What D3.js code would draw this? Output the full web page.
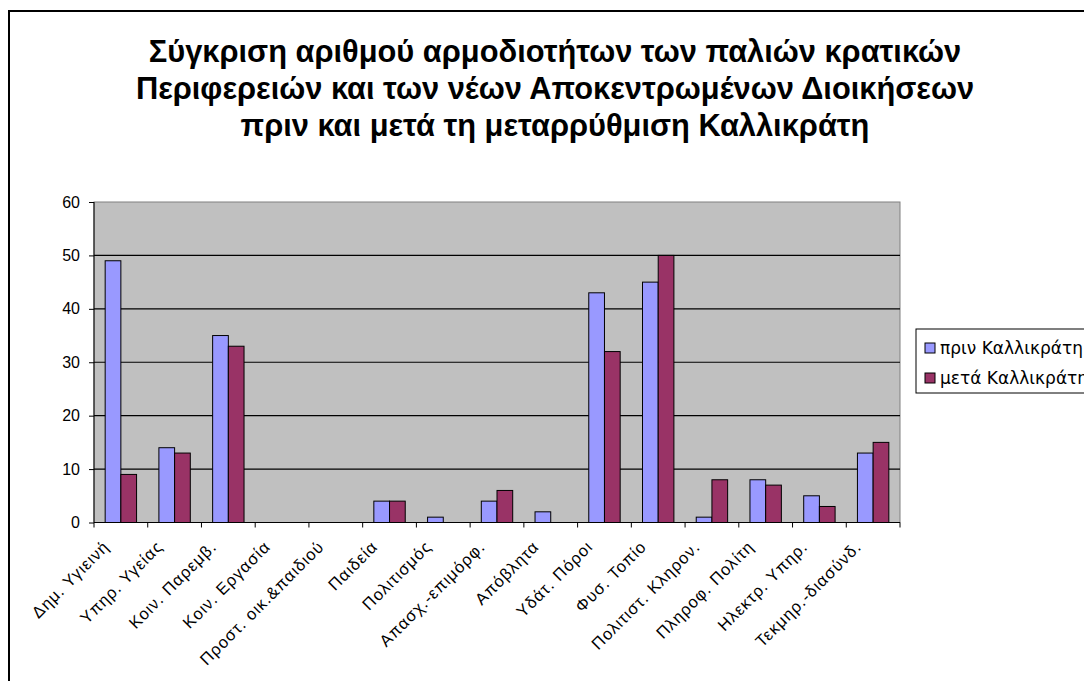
<!DOCTYPE html>
<html>
<head>
<meta charset="utf-8">
<script src="https://cdn.jsdelivr.net/npm/d3@7"></script>
<style>
  body { margin: 0; background: #fff; }
  svg { display: block; }
</style>
</head>
<body>
<div class="chart"></div>
<script>
var categories = ["Δημ. Υγιεινή", "Υπηρ. Υγείας", "Κοιν. Παρεμβ.", "Κοιν. Εργασία",
  "Προστ. οικ.&παιδιού", "Παιδεία", "Πολιτισμός", "Απασχ.-επιμόρφ.", "Απόβλητα",
  "Υδάτ. Πόροι", "Φυσ. Τοπίο", "Πολιτιστ. Κληρον.", "Πληροφ. Πολίτη", "Ηλεκτρ. Υπηρ.",
  "Τεκμηρ.-διασύνδ."];
var before = [49, 14, 35, 0, 0, 4, 1, 4, 2, 43, 45, 1, 8, 5, 13];
var after = [9, 13, 33, 0, 0, 4, 0, 6, 0, 32, 50, 8, 7, 3, 15];
var seriesNames = ["πριν Καλλικράτη", "μετά Καλλικράτη"];
var yTicks = [0, 10, 20, 30, 40, 50, 60];
var titleLines = ["Σύγκριση αριθμού αρμοδιοτήτων των παλιών κρατικών",
  "Περιφερειών και των νέων Αποκεντρωμένων Διοικήσεων",
  "πριν και μετά τη μεταρρύθμιση Καλλικράτη"];

var W = 1084, H = 681;
var colors = ["#9999ff", "#993366"];
var plotLeft = 94, plotRight = 900, plotTop = 202, plotBottom = 522.5;
var groupW = 31.4;

var svg = d3.select(".chart").append("svg")
    .attr("width", W)
    .attr("height", H);

// outer chart border
svg.append("rect")
    .attr("x", 9).attr("y", 11)
    .attr("width", W + 20).attr("height", H + 20)
    .attr("fill", "none")
    .attr("stroke", "#000")
    .attr("stroke-width", 2);

// title
svg.append("g").selectAll("text")
    .data(titleLines)
    .enter().append("text")
    .attr("x", 555)
    .attr("y", function(d, i) { return 62 + i * 37; })
    .attr("text-anchor", "middle")
    .attr("font-family", "Liberation Sans, Arial, sans-serif")
    .attr("font-weight", "bold")
    .attr("font-size", 30.8)
    .text(function(d) { return d; });

var x = d3.scaleBand().domain(d3.range(categories.length)).range([plotLeft, plotRight]);
var xInner = d3.scaleBand().domain([0, 1]).range([0, groupW]);
var y = d3.scaleLinear().domain([0, 60]).range([plotBottom, plotTop]);

// plot area
svg.append("rect")
    .attr("x", plotLeft).attr("y", plotTop)
    .attr("width", plotRight - plotLeft).attr("height", plotBottom - plotTop)
    .attr("fill", "#c0c0c0")
    .attr("stroke", "#808080")
    .attr("stroke-width", 1);

// gridlines
svg.append("g").selectAll("line")
    .data(yTicks.filter(function(d) { return d > 0 && d < 60; }))
    .enter().append("line")
    .attr("x1", plotLeft).attr("x2", plotRight)
    .attr("y1", function(d) { return y(d); })
    .attr("y2", function(d) { return y(d); })
    .attr("stroke", "#000")
    .attr("stroke-width", 1.2);

// bars
var groups = svg.append("g").selectAll("g")
    .data(categories.map(function(c, i) { return [before[i], after[i]]; }))
    .enter().append("g")
    .attr("transform", function(d, i) {
        return "translate(" + (x(i) + (x.bandwidth() - groupW) / 2) + ",0)";
    });

groups.selectAll("rect")
    .data(function(d) {
        return d.map(function(v, k) { return {v: v, k: k}; })
                .filter(function(e) { return e.v > 0; });
    })
    .enter().append("rect")
    .attr("x", function(d) { return xInner(d.k); })
    .attr("y", function(d) { return y(d.v); })
    .attr("width", xInner.bandwidth())
    .attr("height", function(d) { return y(0) - y(d.v); })
    .attr("fill", function(d) { return colors[d.k]; })
    .attr("stroke", "#000")
    .attr("stroke-width", 1);

// y axis
var yAxis = svg.append("g")
    .attr("transform", "translate(" + plotLeft + ",0)")
    .call(d3.axisLeft(y).tickValues(yTicks).tickSize(5).tickPadding(9));
yAxis.selectAll("text")
    .attr("font-family", "Liberation Sans, Arial, sans-serif")
    .attr("font-size", 16)
    .attr("fill", "#000");
yAxis.selectAll("line, path").attr("stroke", "#000");
yAxis.select("path").attr("d", "M0," + plotBottom + "V" + plotTop);

// x axis
var xAxis = svg.append("g")
    .attr("transform", "translate(0," + plotBottom + ")");
xAxis.append("line")
    .attr("x1", plotLeft).attr("x2", plotRight)
    .attr("stroke", "#000");
xAxis.selectAll("line.tick")
    .data(d3.range(categories.length + 1))
    .enter().append("line")
    .attr("class", "tick")
    .attr("x1", function(d) { return plotLeft + d * x.step(); })
    .attr("x2", function(d) { return plotLeft + d * x.step(); })
    .attr("y1", 0).attr("y2", 5)
    .attr("stroke", "#000");
xAxis.selectAll("text")
    .data(categories)
    .enter().append("text")
    .attr("transform", function(d, i) {
        return "translate(" + (x(i) + x.bandwidth() / 2 - 19) + ",17) rotate(-45)";
    })
    .attr("text-anchor", "end")
    .attr("dy", "0.71em")
    .attr("font-family", "Liberation Sans, Arial, sans-serif")
    .attr("font-size", 16.5)
    .attr("letter-spacing", 1)
    .text(function(d) { return d; });

// legend
var legend = svg.append("g").attr("transform", "translate(916,329)");
legend.append("rect")
    .attr("x", 0).attr("y", 0)
    .attr("width", 200).attr("height", 64)
    .attr("fill", "#fff")
    .attr("stroke", "#000")
    .attr("stroke-width", 1);
var items = legend.selectAll("g.item")
    .data(seriesNames)
    .enter().append("g")
    .attr("class", "item")
    .attr("transform", function(d, i) { return "translate(9," + (19 + i * 30) + ")"; });
items.append("rect")
    .attr("x", 0).attr("y", -5)
    .attr("width", 10).attr("height", 10)
    .attr("fill", function(d, i) { return colors[i]; })
    .attr("stroke", "#000");
items.append("text")
    .attr("x", 15)
    .attr("dy", "0.35em")
    .attr("font-family", "DejaVu Sans, Verdana, sans-serif")
    .attr("font-size", 17)
    .text(function(d) { return d; });
</script>
</body>
</html>
